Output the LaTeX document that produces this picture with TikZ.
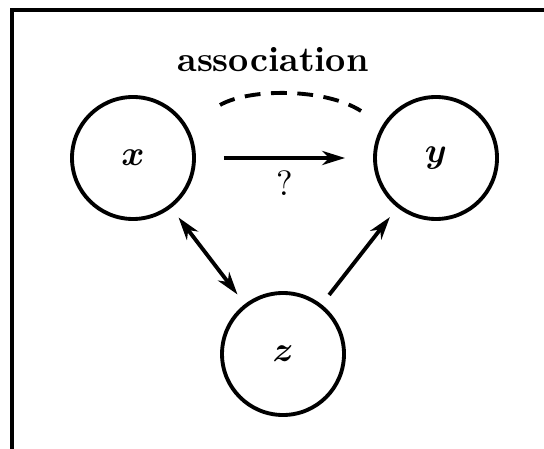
\documentclass[tikz,border=0pt]{standalone}
\usepackage{amsmath,amssymb,bm}
\usepackage{tikz}
\usetikzlibrary{arrows.meta, positioning}

\begin{document}
\begin{tikzpicture}[
    line width=1.1pt,
    varnode/.style={draw=black, circle, line width=1.1pt, minimum size=1.22cm, inner sep=0pt},
    titlenode/.style={font=\bfseries},
    arrow/.style={-{Stealth[length=6.5pt, width=4pt, inset=2pt]}},
    biarrow/.style={{Stealth[length=6.5pt, width=4pt, inset=2pt]}-{Stealth[length=6.5pt, width=4pt, inset=2pt]}},
    labelnode/.style={inner sep=2pt}
]
    \clip (0, 0) rectangle (5.44, 4.48);

    % Frame
    \draw (0.12, -1) rectangle (6, 4.38);

    % --- Nodes ---
    \node[titlenode] (title) at (2.73, 3.88) {association};
    \node[varnode] (x) at (1.33, 2.90) {$\bm{x}$};
    \node[varnode] (y) at (4.36, 2.90) {$\bm{y}$};
    \node[varnode] (z) at (2.83, 0.94) {$\bm{z}$};

    % --- Edges ---
    \draw[arrow, shorten <=0.28cm, shorten >=0.28cm] (x) -- node[labelnode, below=1pt]{?} (y);
    \draw[biarrow, shorten <=0.12cm, shorten >=0.12cm] (x) -- (z);
    \draw[arrow, shorten <=0.12cm, shorten >=0.12cm] (z) -- (y);

    % Dashed association arc
    \coordinate (arcl) at (2.20, 3.43);
    \coordinate (arcr) at (3.61, 3.37);
    \draw[dash pattern=on 4.5pt off 3pt] (arcl) .. controls (2.50, 3.60) and (3.25, 3.60) .. (arcr);

\end{tikzpicture}
\end{document}
